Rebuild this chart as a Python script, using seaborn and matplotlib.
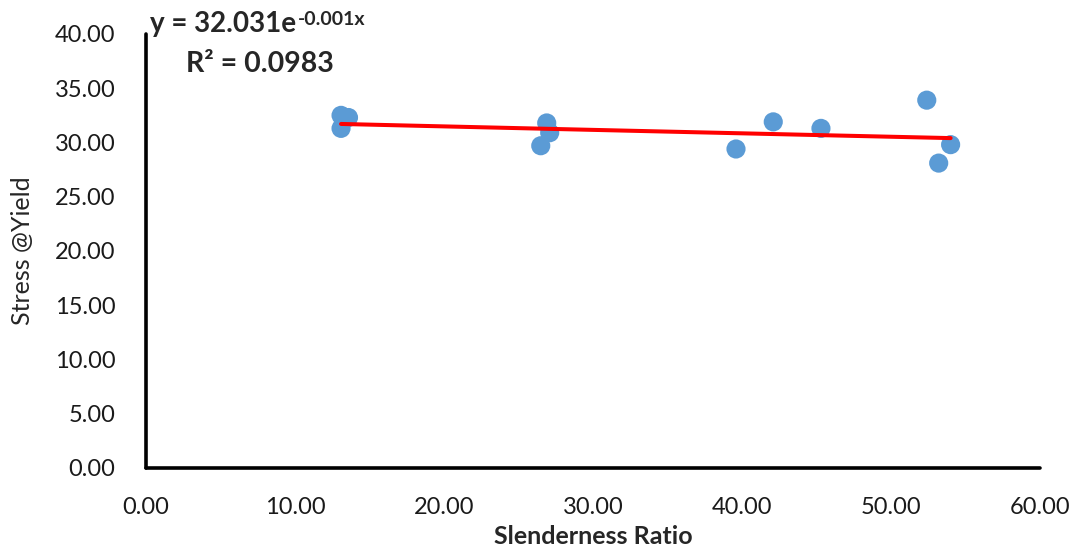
import numpy as np
import pandas as pd
import matplotlib
matplotlib.use('Agg')
import matplotlib.pyplot as plt
import seaborn as sns

# slenderness ratio vs stress at yield
slenderness = [13.1, 13.6, 13.1, 26.9, 27.1, 26.5, 39.6, 42.1, 45.3, 52.4, 54.0, 53.2]
stress = [32.5, 32.3, 31.3, 31.8, 30.9, 29.7, 29.4, 31.9, 31.3, 33.9, 29.8, 28.1]

x_ticks = [0, 10, 20, 30, 40, 50, 60]
y_ticks = [0, 5, 10, 15, 20, 25, 30, 35, 40]

df = pd.DataFrame({'Slenderness Ratio': slenderness, 'Stress @Yield': stress})

sns.set_style('white')
plt.rcParams['font.family'] = ['Lato', 'DejaVu Sans']

fig = plt.figure(figsize=(10.8, 5.48), dpi=100)
ax = fig.add_axes([0.135, 0.146, 0.828, 0.792])

sns.scatterplot(data=df, x='Slenderness Ratio', y='Stress @Yield', ax=ax,
                color='#5B9BD5', s=190, edgecolor='none', zorder=2)

# exponential trendline like excel (fit on log y)
b, a = np.polyfit(df['Slenderness Ratio'], np.log(df['Stress @Yield']), 1)
xs = np.linspace(min(slenderness), max(slenderness), 50)
trend = pd.DataFrame({'x': xs, 'y': np.exp(a) * np.exp(b * xs)})
sns.lineplot(data=trend, x='x', y='y', ax=ax, color='red', lw=2.9, zorder=3)

ax.set_xlim(0, 60)
ax.set_ylim(0, 40)
ax.set_xticks(x_ticks)
ax.set_yticks(y_ticks)
ax.set_xticklabels([f'{t:.2f}' for t in x_ticks])
ax.set_yticklabels([f'{t:.2f}' for t in y_ticks])
ax.tick_params(axis='x', length=0, pad=21, labelsize=17, labelcolor='#1a1a1a')
ax.tick_params(axis='y', length=0, pad=22, labelsize=17, labelcolor='#1a1a1a')

for side in ['top', 'right']:
    ax.spines[side].set_visible(False)
for side in ['left', 'bottom']:
    ax.spines[side].set_color('black')
    ax.spines[side].set_linewidth(2.6)
    ax.spines[side].set_capstyle('round')

ax.set_xlabel('Slenderness Ratio', fontsize=18, fontweight='bold', labelpad=5)
ax.set_ylabel('Stress @Yield', fontsize=18, labelpad=15)

# trendline equation
fig.text(0.139, 0.942, 'y = 32.031e', fontsize=20, fontweight='bold', ha='left', va='baseline')
fig.text(0.276, 0.954, '-0.001x', fontsize=14, fontweight='bold', ha='left', va='baseline')
fig.text(0.172, 0.869, 'R² = 0.0983', fontsize=20.5, fontweight='bold', ha='left', va='baseline')

fig.savefig('out.png', dpi=100)
